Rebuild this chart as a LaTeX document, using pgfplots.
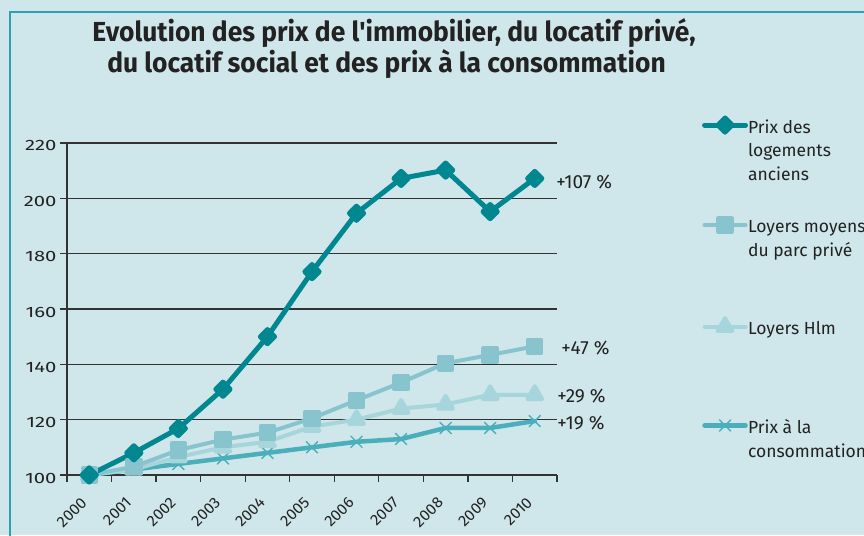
\documentclass[border=0pt]{standalone}
\usepackage{fontspec}
\setmainfont{Fira Sans}
\usepackage{graphicx}
\usepackage{pgfplots}
\pgfplotsset{compat=1.18}
\definecolor{bgcol}{HTML}{CFE6EA}
\definecolor{framecol}{HTML}{2FA0AF}
\definecolor{clog}{HTML}{00878F}
\definecolor{cpriv}{HTML}{88C4CE}
\definecolor{chlm}{HTML}{A6D6DB}
\definecolor{ccons}{HTML}{4AAFBA}
\definecolor{txt}{HTML}{222222}
\definecolor{gridc}{HTML}{333333}
\newcommand{\tl}[1]{\scalebox{1.35}[1]{#1}}
\newcommand{\xl}[1]{\scalebox{1.03}[1]{#1}}
\newcommand{\lt}[1]{\parbox[t]{150pt}{#1}}
\begin{document}
\begin{tikzpicture}
\fill[bgcol] (-67pt,-60pt) rectangle (797pt,475pt);
\draw[framecol, line width=2pt] (-57pt,-61pt) -- (-57pt,463pt) -- (798pt,463pt);
\node[anchor=base, inner sep=0pt, text=txt] at (327pt,433pt) {\fontsize{27.5}{31}\selectfont\bfseries\scalebox{0.96}[1]{Evolution des prix de l\textquotesingle immobilier, du locatif privé,}};
\node[anchor=base, inner sep=0pt, text=txt] at (319.5pt,402pt) {\fontsize{27.5}{31}\selectfont\bfseries\scalebox{0.96}[1]{du locatif social et des prix à la consommation}};
\begin{axis}[
  at={(0pt,0pt)}, anchor=south west,
  scale only axis, width=490pt, height=332pt,
  xmin=-0.5, xmax=10.5, ymin=100, ymax=220,
  clip=false,
  axis x line*=bottom, axis y line*=left,
  axis line style={-, gridc, line width=1.3pt},
  tick align=outside, major tick length=7pt,
  tick style={gridc, line width=1.2pt},
  ytick={100,120,...,220},
  yticklabel={\tl{\pgfmathprintnumber{\tick}}},
  ymajorgrids, major grid style={gridc, line width=1.2pt},
  xtick={-0.5,0.5,...,10.5}, xticklabels={},
  extra x ticks={0,1,...,10},
  extra x tick labels={\xl{2000},\xl{2001},\xl{2002},\xl{2003},\xl{2004},\xl{2005},\xl{2006},\xl{2007},\xl{2008},\xl{2009},\xl{2010}},
  extra x tick style={major tick length=0pt, grid=none},
  /pgf/number format/assume math mode=true,
  yticklabel style={font=\fontsize{15}{17}\selectfont, text=txt, xshift=0pt, yshift=-3pt},
  xticklabel style={font=\fontsize{15.5}{17}\selectfont, text=txt, xshift=-9pt, yshift=-21pt, rotate=45, anchor=north east, inner sep=0pt},
  legend style={at={(1.296,1.0753)}, anchor=north west, draw=none, fill=none,
    inner sep=0pt, outer sep=0pt, row sep=5.2pt, column sep=0pt,
    font=\fontsize{17.5}{23.5}\selectfont,
    cells={anchor=base west},
    nodes={text height=13pt, text depth=80pt, inner sep=0pt, text=txt}},
  reverse legend,
  legend image code/.code={\draw[mark repeat=2,mark phase=2,#1] plot coordinates {(0pt,8pt) (20.5pt,8pt) (41pt,8pt)};},
  every axis plot/.append style={line join=round, line cap=round},
]
\addplot[ccons, line width=4.5pt, mark=x, mark size=8pt, mark options={line width=1.4pt}] coordinates {
(0,100) (1,102) (2,104) (3,106) (4,108) (5,110) (6,112) (7,113) (8,117) (9,117) (10,119.5)};
\addlegendentry{\lt{Prix à la\\consommation}}
\addplot[chlm, line width=4pt, mark=triangle*, mark size=8.5pt] coordinates {
(0,100) (1,102) (2,106.5) (3,110) (4,112) (5,117.5) (6,120) (7,124) (8,125.5) (9,129) (10,129)};
\addlegendentry{\lt{Loyers Hlm}}
\addplot[cpriv, line width=4pt, mark=square*, mark size=6.7pt] coordinates {
(0,100) (1,103) (2,109) (3,112.8) (4,115.3) (5,120.5) (6,127) (7,133.4) (8,140.4) (9,143.4) (10,146.5)};
\addlegendentry{\lt{Loyers moyens\\du parc privé}}
\addplot[clog, line width=5pt, mark=square*, mark size=5pt, mark options={rotate=45}] coordinates {
(0,100) (1,108) (2,116.8) (3,131) (4,150) (5,173.5) (6,194.6) (7,207.2) (8,210.2) (9,195.2) (10,207.2)};
\addlegendentry{\lt{Prix des\\logements\\anciens}}
\node[anchor=base west, inner sep=0pt, text=txt, font=\fontsize{19}{22}\selectfont] at (axis cs:10.48,203.4) {+107 \%};
\node[anchor=base west, inner sep=0pt, text=txt, font=\fontsize{19}{22}\selectfont] at (axis cs:10.595,143.4) {+47 \%};
\node[anchor=base west, inner sep=0pt, text=txt, font=\fontsize{19}{22}\selectfont] at (axis cs:10.505,126.1) {+29 \%};
\node[anchor=base west, inner sep=0pt, text=txt, font=\fontsize{19}{22}\selectfont] at (axis cs:10.505,116.3) {+19 \%};
\end{axis}
\pgfresetboundingbox
\path[use as bounding box] (-67pt,-60pt) rectangle (797pt,475pt);
\end{tikzpicture}
\end{document}
